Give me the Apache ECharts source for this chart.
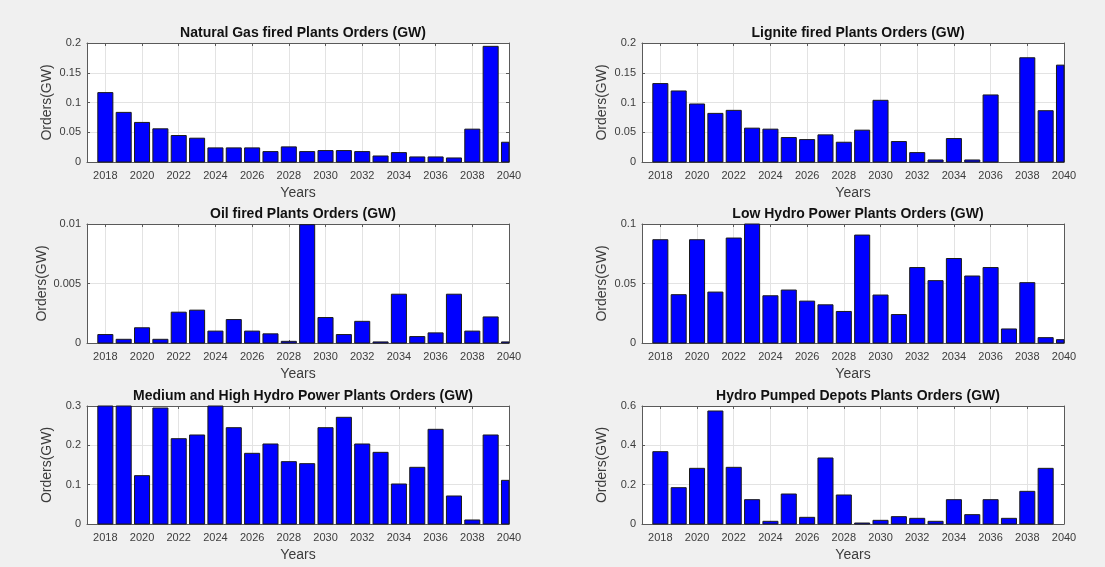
<!DOCTYPE html>
<html>
<head>
<meta charset="utf-8">
<script src="https://cdn.jsdelivr.net/npm/echarts@6/dist/echarts.min.js"></script>
<style>
  html, body { margin: 0; padding: 0; background: #f0f0f0; }
  #chart { width: 1105px; height: 567px; }
</style>
</head>
<body>
<div id="chart"></div>
<script>
// Years on the horizontal axis of every panel
const years = [2018, 2019, 2020, 2021, 2022, 2023, 2024, 2025, 2026, 2027, 2028, 2029,
               2030, 2031, 2032, 2033, 2034, 2035, 2036, 2037, 2038, 2039, 2040];
const yearTicks = [2018, 2020, 2022, 2024, 2026, 2028, 2030, 2032, 2034, 2036, 2038, 2040];

// Orders per year (GW)
const naturalGas = [0.1166, 0.0834, 0.0665, 0.0558, 0.0445, 0.0400, 0.0237, 0.0237, 0.0237, 0.0175,
                    0.0254, 0.0175, 0.0192, 0.0192, 0.0175, 0.0101, 0.0158, 0.0085, 0.0085, 0.0068,
                    0.0552, 0.1944, 0.0332];
const lignite = [0.1318, 0.1194, 0.0975, 0.0817, 0.0868, 0.0569, 0.0552, 0.0411, 0.0377, 0.0456,
                 0.0332, 0.0535, 0.1037, 0.0344, 0.0158, 0.0034, 0.0394, 0.0034, 0.1127, 0,
                 0.1752, 0.0862, 0.1628];
const oil = [0.00071, 0.00031, 0.00128, 0.00031, 0.00259, 0.00276, 0.00100, 0.00197, 0.00100, 0.00077,
             0.00014, 0.00994, 0.00214, 0.00071, 0.00182, 0.00009, 0.00410, 0.00054, 0.00085, 0.00410,
             0.00100, 0.00219, 0.00009];
const lowHydro = [0.0868, 0.0406, 0.0868, 0.0428, 0.0882, 0.1040, 0.0397, 0.0445, 0.0352, 0.0321,
                  0.0265, 0.0907, 0.0403, 0.0239, 0.0634, 0.0524, 0.0710, 0.0563, 0.0634, 0.0118,
                  0.0507, 0.0045, 0.0028];
const mediumHighHydro = [0.320, 0.310, 0.1229, 0.2949, 0.2169, 0.2263, 0.330, 0.2449, 0.1797, 0.2034,
                         0.1585, 0.1534, 0.2449, 0.2712, 0.2034, 0.1822, 0.1017, 0.1441, 0.2407, 0.0712,
                         0.0102, 0.2263, 0.1110];
const pumpedStorage = [0.3678, 0.1847, 0.2830, 0.5746, 0.2881, 0.1237, 0.0136, 0.1525, 0.0339, 0.3356,
                       0.1475, 0.0050, 0.0186, 0.0373, 0.0288, 0.0136, 0.1237, 0.0475, 0.1237, 0.0288,
                       0.1661, 0.2830, 0];

const panels = [
  { title: 'Natural Gas fired Plants Orders (GW)', values: naturalGas, max: 0.2, step: 0.05 },
  { title: 'Lignite fired Plants Orders (GW)', values: lignite, max: 0.2, step: 0.05 },
  { title: 'Oil fired Plants Orders (GW)', values: oil, max: 0.01, step: 0.005 },
  { title: 'Low Hydro Power Plants Orders (GW)', values: lowHydro, max: 0.1, step: 0.05 },
  { title: 'Medium and High Hydro Power Plants Orders (GW)', values: mediumHighHydro, max: 0.3, step: 0.1 },
  { title: 'Hydro Pumped Depots Plants Orders (GW)', values: pumpedStorage, max: 0.6, step: 0.2 }
];

// Plot-area boxes, two columns by three rows
const colLeft = [87, 642];
const plotWidth = 422;
const rowTop = [43, 224, 406];
const plotHeight = [119, 119, 118];

// Bar width in axis units (years)
const BAR_WIDTH = 0.82;

const FONT = '"Liberation Sans", Arial, Helvetica, sans-serif';
const AXIS_COLOR = '#5a5a5a';
const GRID_COLOR = '#e3e3e3';
const TEXT_COLOR = '#3c3c3c';

const grid = [], xAxis = [], yAxis = [], series = [], title = [];

panels.forEach((p, i) => {
  const col = i % 2, row = Math.floor(i / 2);
  const left = colLeft[col], top = rowTop[row], h = plotHeight[row];
  grid.push({
    left: left, top: top, width: plotWidth, height: h,
    show: true, backgroundColor: '#ffffff', borderWidth: 0
  });
  title.push({
    text: p.title,
    left: left + plotWidth / 2, top: top - 22,
    textAlign: 'center',
    textStyle: { fontFamily: FONT, fontSize: 14, fontWeight: 'bold', color: '#111111' }
  });
});

// Bottom / left axes that carry labels and grid lines
panels.forEach((p, i) => {
  xAxis.push({
    type: 'value', gridIndex: i, min: 2017, max: 2040,
    name: 'Years', nameLocation: 'middle', nameGap: 24,
    nameTextStyle: { fontFamily: FONT, fontSize: 14, color: TEXT_COLOR },
    axisLine: { show: true, onZero: false, lineStyle: { color: AXIS_COLOR, width: 1 } },
    axisTick: { show: true, inside: true, length: 3, customValues: yearTicks,
                lineStyle: { color: AXIS_COLOR } },
    axisLabel: { customValues: yearTicks, margin: 8, fontFamily: FONT, fontSize: 11, color: TEXT_COLOR,
                 formatter: v => String(v) },
    splitLine: { show: true, lineStyle: { color: GRID_COLOR, width: 1 } }
  });
  yAxis.push({
    type: 'value', gridIndex: i, min: 0, max: p.max, interval: p.step,
    name: 'Orders(GW)', nameLocation: 'middle', nameGap: 33, nameRotate: 90,
    nameTextStyle: { fontFamily: FONT, fontSize: 14, color: TEXT_COLOR },
    axisLine: { show: true, onZero: false, lineStyle: { color: AXIS_COLOR, width: 1 } },
    axisTick: { show: true, inside: true, length: 3, lineStyle: { color: AXIS_COLOR } },
    axisLabel: { margin: 6, fontFamily: FONT, fontSize: 11, color: TEXT_COLOR },
    splitLine: { show: true, lineStyle: { color: GRID_COLOR, width: 1 } }
  });
});

// Top / right axes closing the box, ticks only
panels.forEach((p, i) => {
  xAxis.push({
    type: 'value', gridIndex: i, min: 2017, max: 2040, position: 'top',
    axisLine: { show: true, onZero: false, lineStyle: { color: AXIS_COLOR, width: 1 } },
    axisTick: { show: true, inside: true, length: 3, customValues: yearTicks,
                lineStyle: { color: AXIS_COLOR } },
    axisLabel: { show: false, customValues: yearTicks },
    splitLine: { show: false }
  });
  yAxis.push({
    type: 'value', gridIndex: i, min: 0, max: p.max, interval: p.step, position: 'right',
    axisLine: { show: true, onZero: false, lineStyle: { color: AXIS_COLOR, width: 1 } },
    axisTick: { show: true, inside: true, length: 3, lineStyle: { color: AXIS_COLOR } },
    axisLabel: { show: false },
    splitLine: { show: false }
  });
});

// Bars drawn through the axis scales and clipped to the plot box on all sides
function renderBar(params, api) {
  const year = api.value(0);
  const v = api.value(1);
  if (!(v > 0)) return null;
  const p0 = api.coord([year - BAR_WIDTH / 2, 0]);
  const p1 = api.coord([year + BAR_WIDTH / 2, v]);
  const shape = echarts.graphic.clipRectByRect(
    { x: p0[0], y: p1[1], width: p1[0] - p0[0], height: p0[1] - p1[1] },
    { x: params.coordSys.x, y: params.coordSys.y,
      width: params.coordSys.width, height: params.coordSys.height }
  );
  if (!shape) return null;
  return {
    type: 'rect',
    shape: shape,
    style: { fill: '#0000ff', stroke: '#1a1a1a', lineWidth: 1 }
  };
}

panels.forEach((p, i) => {
  series.push({
    type: 'custom', xAxisIndex: i, yAxisIndex: i,
    data: years.map((y, k) => [y, p.values[k]]),
    renderItem: renderBar,
    encode: { x: 0, y: 1 },
    clip: false,
    emphasis: { disabled: true },
    silent: true,
    animation: false
  });
});

const chart = echarts.init(document.getElementById('chart'), null, { renderer: 'canvas' });
chart.setOption({
  backgroundColor: '#f0f0f0',
  animation: false,
  title: title,
  grid: grid,
  xAxis: xAxis,
  yAxis: yAxis,
  series: series
});
</script>
</body>
</html>
